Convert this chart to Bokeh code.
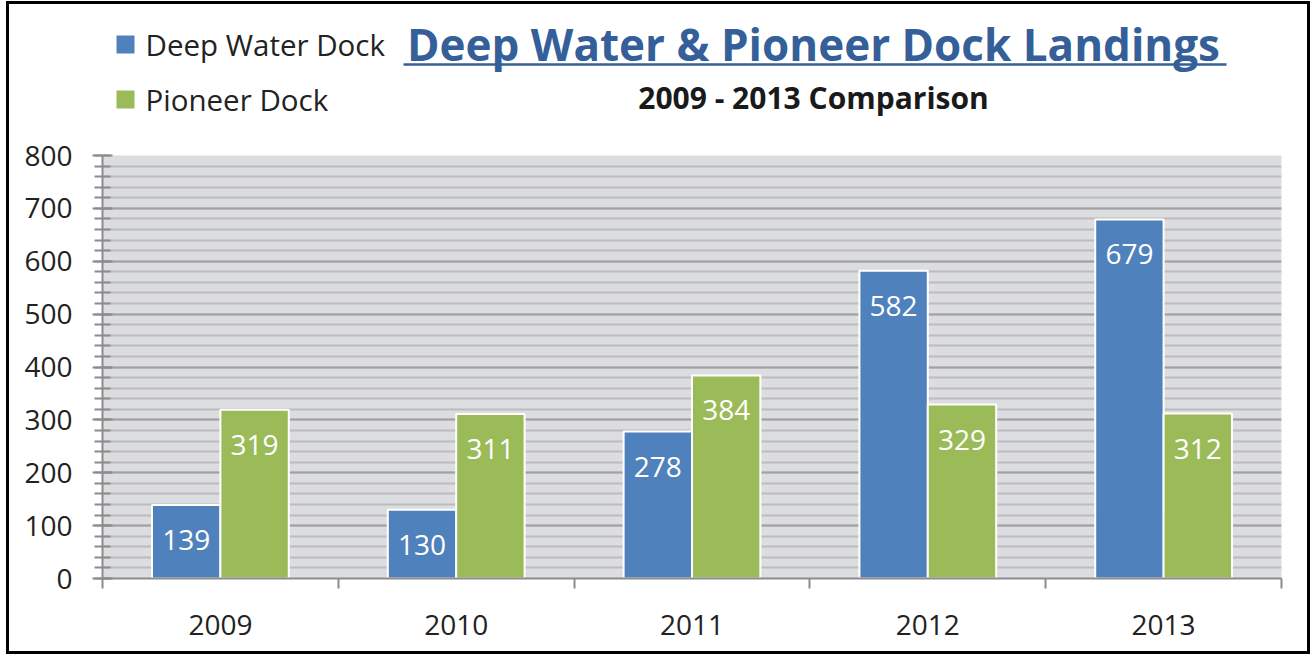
from bokeh.plotting import figure
from bokeh.models import FixedTicker, Range1d
from bokeh.layouts import column
from bokeh.core.properties import value
from bokeh.embed import file_html
from bokeh.resources import INLINE

years = ["2009", "2010", "2011", "2012", "2013"]
deep_water = [139, 130, 278, 582, 679]
pioneer = [319, 311, 384, 329, 312]
series_names = ["Deep Water Dock", "Pioneer Dock"]
series_colors = ["#4f81bd", "#9bbb59"]
y_ticks = [0, 100, 200, 300, 400, 500, 600, 700, 800]
title_text = "Deep Water & Pioneer Dock Landings"
subtitle_text = "2009 - 2013 Comparison"

FONT = "Open Sans"
# outer box (page pixels): left 6, top 1, right 1310, bottom 654, 3px border
BL, BT, BW = 6, 1, 3
CX0, CY0 = BL + BW, BT + BW          # content origin (9, 4)
CW, CH = 1310 - BW - CX0, 654 - BW - CY0   # 1298 x 647
FL, FR, FT, FB = 102, 1281, 155, 578       # plot frame, page pixels
HEAD_B = 135                                # header bottom, page pixels

# ---------- header (title + legend) ----------
h = figure(width=CW, height=HEAD_B - CY0,
           x_range=Range1d(FL, FR), y_range=Range1d(HEAD_B, CY0),
           output_backend="svg", toolbar_location=None,
           x_axis_type=None, y_axis_type=None,
           min_border_left=FL - CX0, min_border_right=CX0 + CW - FR,
           min_border_top=0, min_border_bottom=0)
h.outline_line_color = None
h.xgrid.grid_line_color = None
h.ygrid.grid_line_color = None
h.background_fill_color = "white"
h.border_fill_color = "white"

leg_y = [44, 99]
h.scatter(x=[125, 125], y=leg_y, marker="square", size=18,
          fill_color=series_colors, line_color=None)
h.text(x=[145, 145], y=leg_y, text=series_names, text_font=value(FONT),
       text_font_size="29.5px", text_color="#222222", text_baseline="middle")

h.text(x=[813], y=[43], text=[title_text], text_font=value(FONT),
       text_font_size="44px", text_font_style="bold", text_color="#355f98",
       text_align="center", text_baseline="middle")
h.segment(x0=[403], y0=[64], x1=[1226], y1=[64], line_color="#355f98", line_width=2.5)
h.text(x=[813], y=[97], text=[subtitle_text], text_font=value(FONT),
       text_font_size="30px", text_font_style="bold", text_color="#1a1a1a",
       text_align="center", text_baseline="middle")

# ---------- chart ----------
p = figure(width=CW, height=CY0 + CH - HEAD_B, x_range=(0, 5), y_range=(0, 800),
           output_backend="svg", toolbar_location=None,
           min_border_left=FL - CX0, min_border_right=CX0 + CW - FR,
           min_border_top=FT - HEAD_B, min_border_bottom=CY0 + CH - FB)
p.background_fill_color = "#dcdde0"
p.border_fill_color = "white"
p.outline_line_color = None

idx = list(range(len(years)))
bw = 0.29
xd = [i + 0.5 - bw / 2 for i in idx]
xp = [i + 0.5 + bw / 2 for i in idx]

p.vbar(x=xd, top=deep_water, width=bw, fill_color=series_colors[0],
       line_color="white", line_width=2)
p.vbar(x=xp, top=pioneer, width=bw, fill_color=series_colors[1],
       line_color="white", line_width=2)

for xs, vals in ((xd, deep_water), (xp, pioneer)):
    p.text(x=xs, y=vals, text=[str(v) for v in vals], text_color="white",
           text_align="center", text_baseline="middle", y_offset=35,
           text_font=value(FONT), text_font_size="28px")

ax = p.xaxis[0]
ax.ticker = FixedTicker(ticks=[i + 0.5 for i in idx], minor_ticks=list(range(len(years) + 1)))
ax.major_label_overrides = {i + 0.5: years[i] for i in idx}
ax.major_tick_out = 0
ax.major_tick_in = 0
ax.minor_tick_out = 10
ax.minor_tick_in = 0
ax.minor_tick_line_color = "#8c8c8c"
ax.minor_tick_line_width = 2
ax.axis_line_color = "#8c8c8c"
ax.axis_line_width = 2
ax.major_label_text_font = FONT
ax.major_label_text_font_size = "28px"
ax.major_label_text_color = "#222222"
ax.major_label_standoff = 26

ay = p.yaxis[0]
ay.ticker = FixedTicker(ticks=y_ticks, minor_ticks=list(range(0, 801, 20)))
ay.major_tick_out = 10
ay.major_tick_in = 10
ay.minor_tick_out = 8
ay.minor_tick_in = 8
ay.major_tick_line_color = "#8c8c8c"
ay.minor_tick_line_color = "#8c8c8c"
ay.major_tick_line_width = 2
ay.minor_tick_line_width = 2
ay.axis_line_color = "#8c8c8c"
ay.axis_line_width = 2
ay.major_label_text_font = FONT
ay.major_label_text_font_size = "28px"
ay.major_label_text_color = "#222222"
ay.major_label_standoff = 20

p.xgrid.grid_line_color = None
p.ygrid.grid_line_color = "#a2a2a2"
p.ygrid.grid_line_width = 2
p.ygrid.minor_grid_line_color = "#bcbcbc"
p.ygrid.minor_grid_line_width = 2

layout = column(h, p, spacing=0,
                styles={"border": f"{BW}px solid black", "box-sizing": "content-box",
                        "margin-left": f"{BL}px", "margin-top": f"{BT}px",
                        "background-color": "white"})

open("out.html", "w").write(file_html(layout, INLINE))
